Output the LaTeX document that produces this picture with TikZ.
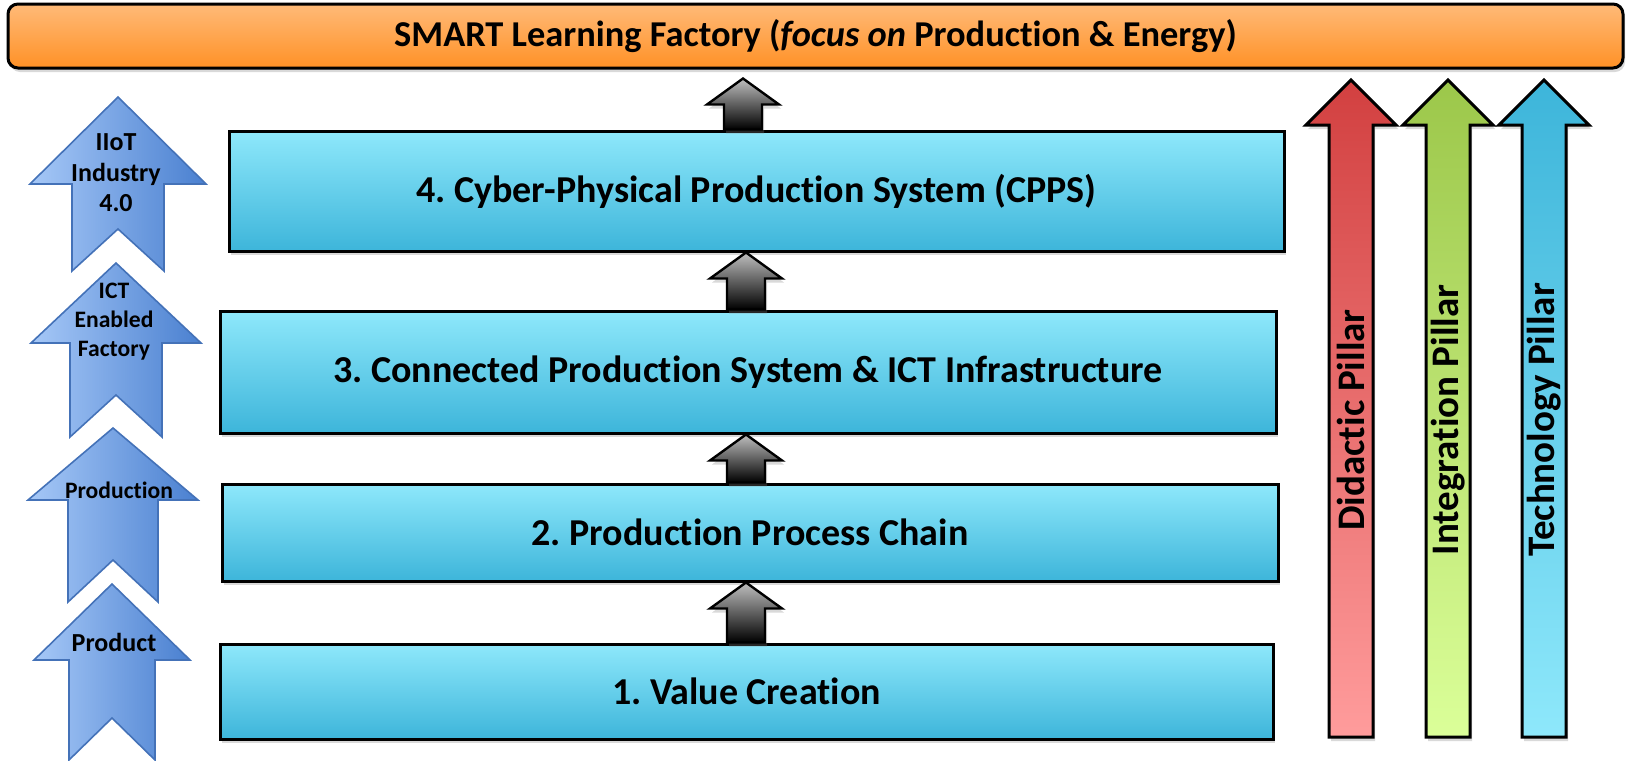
\documentclass[tikz,border=0pt]{standalone}
\usepackage{fontspec}
\setmainfont{Carlito}[Ligatures=NoCommon]
\frenchspacing
\usetikzlibrary{calc,shadows}
\definecolor{boxtop}{HTML}{8EE8FB}
\definecolor{boxbot}{HTML}{3DB5DA}
\definecolor{bartop}{HTML}{FFBA78}
\definecolor{barbot}{HTML}{FF9126}
\definecolor{lvlleft}{HTML}{A6C8F7}
\definecolor{lvlright}{HTML}{4A80D0}
\definecolor{lvledge}{HTML}{4472B8}
\definecolor{redtop}{HTML}{D24040}
\definecolor{redbot}{HTML}{FF9C9C}
\definecolor{greentop}{HTML}{9CC74A}
\definecolor{greenbot}{HTML}{DBFF99}
\tikzset{
	MyShadow/.style={drop shadow={shadow xshift=1pt, shadow yshift=-2pt, opacity=0.3}},
	Layer/.style={draw=black, line width=1.5pt, top color=boxtop, bottom color=boxbot, MyShadow,
		font=\bfseries\fontsize{19}{22}\selectfont},
	TopBar/.style={draw=black, line width=1.5pt, rounded corners=5pt, top color=bartop, bottom color=barbot, MyShadow,
		font=\bfseries\fontsize{18.2}{21}\selectfont},
	BlockArrow/.style={draw=black, line width=1.2pt, top color=gray!50, bottom color=black, MyShadow},
	LevelArrow/.style={draw=lvledge, line width=0.8pt, left color=lvlleft, right color=lvlright},
	LevelText/.style={align=center, font=\bfseries\fontsize{11.8}{14.5}\selectfont},
	Pillar/.style={draw=black, line width=1.5pt, MyShadow},
	PillarText/.style={rotate=90, font=\bfseries\fontsize{19.5}{22}\selectfont}
}
% block arrow pointing up from #1 (bottom) to #2 (tip)
\newcommand{\upblock}[2]{%
	\draw[BlockArrow] let \p1=#1, \p2=#2 in
		(\x2,\y2) -- (\x2+18pt,\y2-13pt) -- (\x2+9.5pt,\y2-13pt) -- (\x2+9.5pt,\y1)
		-- (\x2-9.5pt,\y1) -- (\x2-9.5pt,\y2-13pt) -- (\x2-18pt,\y2-13pt) -- cycle;}

\begin{document}
\begin{tikzpicture}[x=0.5pt, y=-0.5pt]
	\useasboundingbox (0,0) rectangle (1630,761);

	% Title bar
	\node[TopBar, minimum width=807.5pt, minimum height=32pt] (bar) at (815.5,36)
		{SMART Learning Factory (\textit{focus on} Production \& Energy)};

	% Layers
	\node[Layer, minimum width=527.5pt, minimum height=60pt] (cpps) at (756.5,191)
		{4. Cyber-Physical Production System (CPPS)};
	\node[Layer, minimum width=528pt, minimum height=61pt] (ict) at (748,372)
		{3. Connected Production System \& ICT Infrastructure};
	\node[Layer, minimum width=528pt, minimum height=48.5pt] (chain) at (750,532.5)
		{2. Production Process Chain};
	\node[Layer, minimum width=526.5pt, minimum height=47.5pt] (value) at (746.5,691.5)
		{1. Value Creation};

	% Arrows between layers
	\coordinate (bartip) at ([yshift=-4.5pt]bar.south);
	\upblock{(cpps.north -| 743,0)}{(bartip -| 743,0)}
	\upblock{(ict.north -| 746,0)}{(cpps.south -| 746,0)}
	\upblock{(chain.north -| 746,0)}{(ict.south -| 746,0)}
	\upblock{(value.north -| 746,0)}{(chain.south -| 746,0)}

	% Level arrows on the left
	\foreach \cx/\tp/\hb/\bt/\hw/\sw in {118/97/184/271/88/46, 116/263/343/437/85/46,
			113/428/500/602/85/45, 112/584/660/760/78/43}
		\draw[LevelArrow] (\cx,\tp) -- (\cx+\hw,\hb) -- (\cx+\sw,\hb) -- (\cx+\sw,\bt) -- (\cx,\bt-42)
			-- (\cx-\sw,\bt) -- (\cx-\sw,\hb) -- (\cx-\hw,\hb) -- cycle;
	\node[LevelText, font=\bfseries\fontsize{13}{15.25}\selectfont] (iiot) at (116,173) {IIoT\\Industry\\4.0};
	\node[LevelText] (ictfac) at (114,322) {ICT\\Enabled\\Factory};
	\node[LevelText] (prodn) at (119,490) {Production};
	\node[LevelText, font=\bfseries\fontsize{13}{15}\selectfont] (prodt) at (114,642) {Product};

	% Pillars
	\foreach \cx/\ctop/\cbot/\nm/\lbl in {1351/redtop/redbot/didactic/Didactic Pillar,
			1448/greentop/greenbot/integration/Integration Pillar,
			1544/boxbot/boxtop/technology/Technology Pillar}{
		\draw[Pillar, top color=\ctop, bottom color=\cbot] (\cx,80) -- (\cx+45,125) -- (\cx+22,125)
			-- (\cx+22,737) -- (\cx-22,737) -- (\cx-22,125) -- (\cx-45,125) -- cycle;
		\node[PillarText] (\nm) at (\cx,420) {\lbl};
	}
\end{tikzpicture}
\end{document}
